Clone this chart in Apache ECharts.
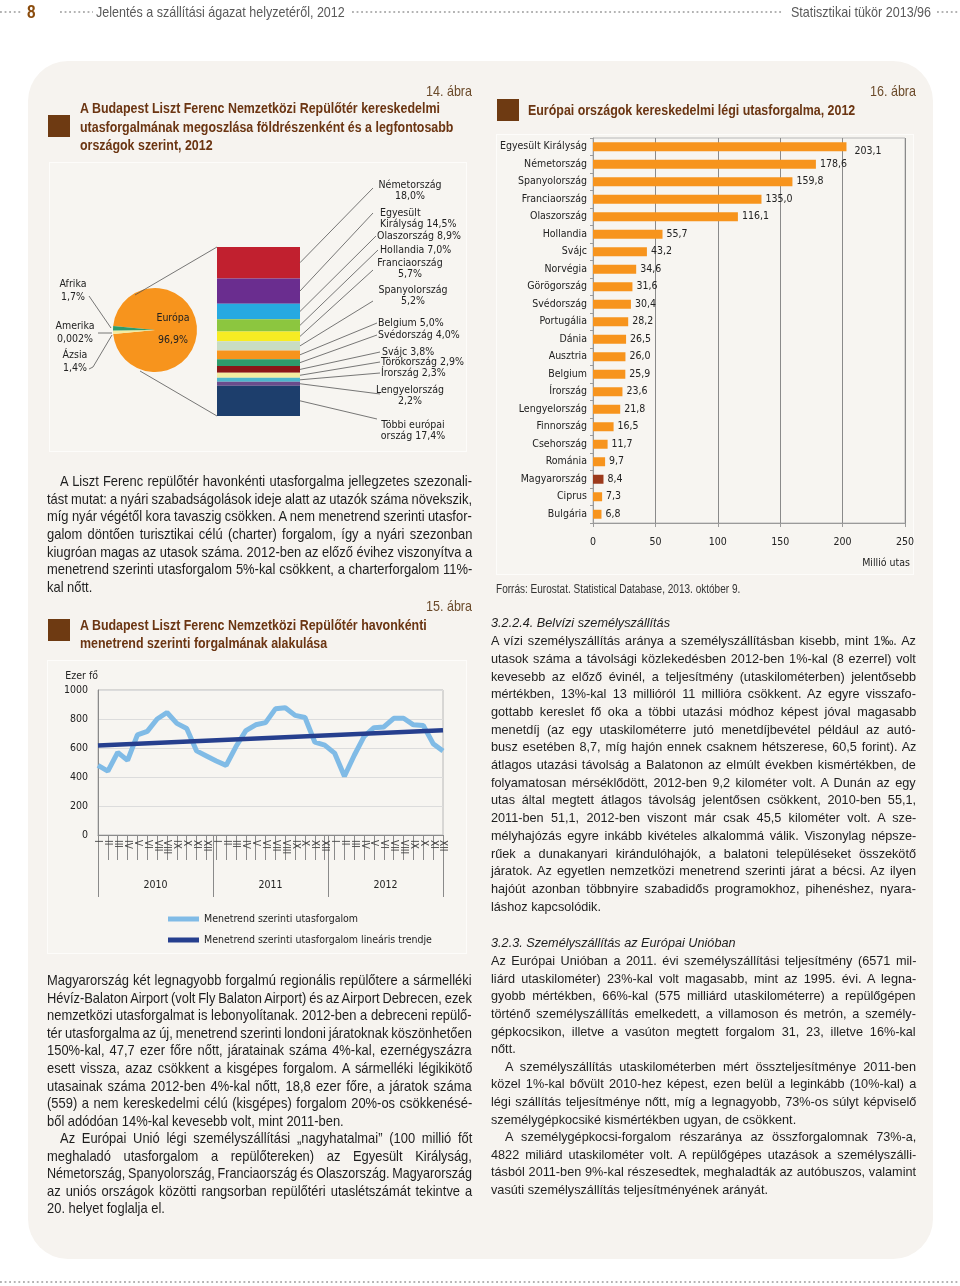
<!DOCTYPE html>
<html><head><meta charset="utf-8">
<script src="https://cdn.jsdelivr.net/npm/echarts@6/dist/echarts.min.js"></script>
<style>
html,body{margin:0;padding:0;background:#fff;width:960px;height:1286px;overflow:hidden;position:relative;}
#panel{position:absolute;left:28px;top:61px;width:905px;height:1198px;background:#f6f3ef;border-radius:40px;z-index:0;}
.box{position:absolute;border:1.5px solid #fdfcfa;box-sizing:border-box;background:#f7f5f1;z-index:1;}
#chart{position:absolute;left:0;top:0;width:960px;height:1286px;z-index:2;}
#txt{position:absolute;left:0;top:0;width:960px;height:1286px;z-index:3;pointer-events:none;}
.t{position:absolute;white-space:nowrap;transform-origin:0 50%;font-family:'Liberation Sans',Arial,sans-serif;}
.sq{position:absolute;width:22px;height:22px;background:#6e3a12;z-index:3;}
.dots{position:absolute;height:2px;background-image:linear-gradient(90deg,#b3b3b3 0,#b3b3b3 2px,transparent 2px);background-size:4.6px 2px;z-index:3;}
</style></head><body>
<div id="panel"></div>
<div class="box" style="left:49px;top:162px;width:418px;height:290px"></div>
<div class="box" style="left:47px;top:660px;width:420px;height:294px"></div>
<div class="box" style="left:496px;top:134px;width:418px;height:441px"></div>
<div class="sq" style="left:48px;top:115px"></div>
<div class="sq" style="left:497px;top:99px"></div>
<div class="sq" style="left:48px;top:619px"></div>
<div class="dots" style="left:0;top:11px;width:23px"></div>
<div class="dots" style="left:60px;top:11px;width:33px"></div>
<div class="dots" style="left:352px;top:11px;width:430px"></div>
<div class="dots" style="left:937px;top:11px;width:23px"></div>
<div class="dots" style="left:0;top:1281px;width:960px"></div>
<div id="chart"></div>
<div id="txt"></div>
<script>
// ================= DATA =================
// Figure 14
const continents = ['Európa', 'Ázsia', 'Amerika', 'Afrika'];
const continentShare = [96.9, 1.4, 0.002, 1.7];
const euCountries = ['Németország', 'Egyesült Királyság', 'Olaszország', 'Hollandia', 'Franciaország', 'Spanyolország', 'Belgium', 'Svédország', 'Svájc', 'Törökország', 'Írország', 'Lengyelország', 'Többi európai ország'];
const euShare = [18.0, 14.5, 8.9, 7.0, 5.7, 5.2, 5.0, 4.0, 3.8, 2.9, 2.3, 2.2, 17.4];

// Figure 15
const years15 = ['2010', '2011', '2012'];
const months15 = ['I', 'II', 'III', 'IV', 'V', 'VI', 'VII', 'VIII', 'IX', 'X', 'XI', 'XII'];
const pax2010 = [480, 440, 570, 515, 690, 715, 800, 845, 770, 735, 580, 545];
const pax2011 = [510, 480, 610, 720, 760, 775, 870, 878, 825, 810, 640, 620];
const pax2012 = [565, 405, 550, 680, 740, 745, 805, 805, 760, 755, 630, 580];
const trendEnds = [617, 722];
const yTicks15 = [0, 200, 400, 600, 800, 1000];
const seriesName15 = 'Menetrend szerinti utasforgalom';
const trendName15 = 'Menetrend szerinti utasforgalom lineáris trendje';

// Figure 16
const countries16 = ['Egyesült Királyság', 'Németország', 'Spanyolország', 'Franciaország', 'Olaszország', 'Hollandia', 'Svájc', 'Norvégia', 'Görögország', 'Svédország', 'Portugália', 'Dánia', 'Ausztria', 'Belgium', 'Írország', 'Lengyelország', 'Finnország', 'Csehország', 'Románia', 'Magyarország', 'Ciprus', 'Bulgária'];
const traffic16 = [203.1, 178.6, 159.8, 135.0, 116.1, 55.7, 43.2, 34.6, 31.6, 30.4, 28.2, 26.5, 26.0, 25.9, 23.6, 21.8, 16.5, 11.7, 9.7, 8.4, 7.3, 6.8];
const xTicks16 = [0, 50, 100, 150, 200, 250];
const highlight16 = 'Magyarország';

// Texts
const paraLeft1 = [
 '>A Liszt Ferenc repülőtér havonkénti utasforgalma jellegzetes szezonali-',
 'tást mutat: a nyári szabadságolások ideje alatt az utazók száma növekszik,',
 'míg nyár végétől kora tavaszig csökken. A nem menetrend szerinti utasfor-',
 'galom döntően turisztikai célú (charter) forgalom, így a nyári szezonban',
 'kiugróan magas az utasok száma. 2012-ben az előző évihez viszonyítva a',
 'menetrend szerinti utasforgalom 5%-kal csökkent, a charterforgalom 11%-',
 'kal nőtt.|'];
const paraLeft2 = [
 'Magyarország két legnagyobb forgalmú regionális repülőtere a sármelléki',
 'Hévíz-Balaton Airport (volt Fly Balaton Airport) és az Airport Debrecen, ezek',
 'nemzetközi utasforgalmat is lebonyolítanak. 2012-ben a debreceni repülő-',
 'tér utasforgalma az új, menetrend szerinti londoni járatoknak köszönhetően',
 '150%-kal, 47,7 ezer főre nőtt, járatainak száma 4%-kal, ezernégyszázra',
 'esett vissza, azaz csökkent a kisgépes forgalom. A sármelléki légikikötő',
 'utasainak száma 2012-ben 4%-kal nőtt, 18,8 ezer főre, a járatok száma',
 '(559) a nem kereskedelmi célú (kisgépes) forgalom 20%-os csökkenésé-',
 'ből adódóan 14%-kal kevesebb volt, mint 2011-ben.|',
 '>Az Európai Unió légi személyszállítási „nagyhatalmai” (100 millió főt',
 'meghaladó utasforgalom a repülőtereken) az Egyesült Királyság,',
 'Németország, Spanyolország, Franciaország és Olaszország. Magyarország',
 'az uniós országok közötti rangsorban repülőtéri utaslétszámát tekintve a',
 '20. helyet foglalja el.|'];
const paraRight1 = [
 'A vízi személyszállítás aránya a személyszállításban kisebb, mint 1‰. Az',
 'utasok száma a távolsági közlekedésben 2012-ben 1%-kal (8 ezerrel) volt',
 'kevesebb az előző évinél, a teljesítmény (utaskilométerben) jelentősebb',
 'mértékben, 13%-kal 13 millióról 11 millióra csökkent. Az egyre visszafo-',
 'gottabb kereslet fő oka a többi utazási módhoz képest jóval magasabb',
 'menetdíj (az egy utaskilométerre jutó menetdíjbevétel például az autó-',
 'busz esetében 8,7, míg hajón ennek csaknem hétszerese, 60,5 forint). Az',
 'átlagos utazási távolság a Balatonon az elmúlt években kismértékben, de',
 'folyamatosan mérséklődött, 2012-ben 9,2 kilométer volt. A Dunán az egy',
 'utas által megtett átlagos távolság jelentősen csökkent, 2010-ben 55,1,',
 '2011-ben 51,1, 2012-ben viszont már csak 45,5 kilométer volt. A sze-',
 'mélyhajózás egyre inkább kivételes alkalommá válik. Viszonylag népsze-',
 'rűek a dunakanyari kirándulóhajók, a balatoni településeket összekötő',
 'járatok. Az egyetlen nemzetközi menetrend szerinti járat a bécsi. Az ilyen',
 'hajóút azonban többnyire szabadidős programokhoz, pihenéshez, nyara-',
 'láshoz kapcsolódik.|'];
const paraRight2 = [
 'Az Európai Unióban a 2011. évi személyszállítási teljesítmény (6571 mil-',
 'liárd utaskilométer) 23%-kal volt magasabb, mint az 1995. évi. A legna-',
 'gyobb mértékben, 66%-kal (575 milliárd utaskilométerre) a repülőgépen',
 'történő személyszállítás emelkedett, a villamoson és metrón, a személy-',
 'gépkocsikon, illetve a vasúton megtett forgalom 31, 23, illetve 16%-kal',
 'nőtt.|',
 '>A személyszállítás utaskilométerben mért összteljesítménye 2011-ben',
 'közel 1%-kal bővült 2010-hez képest, ezen belül a leginkább (10%-kal) a',
 'légi szállítás teljesítménye nőtt, míg a legnagyobb, 73%-os súlyt képviselő',
 'személygépkocsiké kismértékben ugyan, de csökkent.|',
 '>A személygépkocsi-forgalom részaránya az összforgalomnak 73%-a,',
 '4822 miliárd utaskilométer volt. A repülőgépes utazások a személyszálli-',
 'tásból 2011-ben 9%-kal részesedtek, meghaladták az autóbuszos, valamint',
 'vasúti személyszállítás teljesítményének arányát.|'];

// ================= STYLE =================
const euColors = ['#c1202f', '#6a2d8f', '#27a9e1', '#8cc63f', '#f7ec23', '#c8dcc4', '#f7941d', '#2e9b6b', '#8b1616', '#f3eca0', '#4db6cc', '#6b4c8c', '#1d3e6c'];
const continentColors = ['#f7941d', '#f3eca0', '#1d3e6c', '#2e9b6b'];
const BROWN = '#6b3512';

function hasFont(f) {
  const c = document.createElement('canvas').getContext('2d');
  const s = 'abcdefghijklmnopqrstuvwxyz ÁÉŐ 0123456789';
  c.font = '20px monospace'; const w0 = c.measureText(s).width;
  c.font = "20px '" + f + "', monospace"; const w1 = c.measureText(s).width;
  return Math.abs(w1 - w0) > 0.5;
}
let F = "'Liberation Sans', Arial, sans-serif", FS = 11;
if (hasFont('Liberation Sans Narrow')) { F = "'Liberation Sans Narrow', 'Liberation Sans', sans-serif"; FS = 12; }
else if (hasFont('DejaVu Sans Condensed')) { F = "'DejaVu Sans Condensed', sans-serif"; FS = 10.5; }

// ================= HTML TEXT =================
const txt = document.getElementById('txt');
function mk(s, css) { const d = document.createElement('div'); d.className = 't'; d.textContent = s; Object.assign(d.style, css); txt.appendChild(d); return d; }
function kOf(s, css, target) { const d = mk(s, css); const w = d.offsetWidth; d.remove(); return target / w; }
function line(s, o) {
  const css = { fontSize: o.size + 'px', fontWeight: o.weight || 'normal', color: o.color || '#222', fontStyle: o.style || 'normal', lineHeight: (o.lh || Math.round(o.size * 1.25)) + 'px' };
  const d = mk(s, css);
  const nat = d.offsetWidth, h = d.offsetHeight;
  const k = o.w ? o.w / nat : (o.k || 1);
  d.style.transform = 'scaleX(' + k + ')';
  d.style.left = (o.xr !== undefined ? o.xr - nat * k : o.x) + 'px';
  d.style.top = (o.y - h / 2) + 'px';
  return d;
}
function para(lines, o) {
  lines.forEach((raw, i) => {
    let s = raw, ind = 0, last = false;
    if (s[0] === '>') { ind = o.ind; s = s.slice(1); }
    if (s.endsWith('|')) { last = true; s = s.slice(0, -1); }
    const d = mk(s, { fontSize: o.size + 'px', color: o.color || '#1e1e1e', lineHeight: o.lh + 'px', height: o.lh + 'px' });
    d.style.left = (o.x + ind) + 'px';
    d.style.top = (o.y + i * o.lh - o.lh / 2) + 'px';
    let k = o.k;
    if (!last) {
      const nat = d.offsetWidth, n = (s.match(/ /g) || []).length;
      const W = o.w - ind;
      if (n) {
        let ws = (W / k - nat) / n;
        const minWs = -0.8;
        if (ws < minWs) { ws = minWs; k = W / (nat + n * ws); }
        d.style.wordSpacing = ws + 'px';
      }
    }
    d.style.transform = 'scaleX(' + k + ')';
  });
}
// header
const kHead = kOf('Jelentés a szállítási ágazat helyzetéről, 2012', { fontSize: '14.5px' }, 249);
line('8', { x: 27, y: 12, size: 18, weight: 'bold', color: '#8a4b0c', k: 0.85 });
line('Jelentés a szállítási ágazat helyzetéről, 2012', { x: 96, y: 12, size: 14.5, color: '#5a5a5a', k: kHead });
line('Statisztikai tükör 2013/96', { xr: 931, y: 12, size: 14.5, color: '#5a5a5a', k: kHead });
// titles
const titleCss = { fontSize: '15.5px', fontWeight: 'bold' };
const kTitle = kOf('A Budapest Liszt Ferenc Nemzetközi Repülőtér havonkénti', titleCss, 347);
const tOpt = (x, y) => ({ x: x, y: y, size: 15.5, weight: 'bold', color: BROWN, k: kTitle });
line('A Budapest Liszt Ferenc Nemzetközi Repülőtér kereskedelmi', tOpt(80, 107.5));
line('utasforgalmának megoszlása földrészenként és a legfontosabb', tOpt(80, 126));
line('országok szerint, 2012', tOpt(80, 144.5));
line('Európai országok kereskedelmi légi utasforgalma, 2012', tOpt(528, 109));
line('A Budapest Liszt Ferenc Nemzetközi Repülőtér havonkénti', tOpt(80, 624));
line('menetrend szerinti forgalmának alakulása', tOpt(80, 642));
const kAbra = kHead;
line('14. ábra', { xr: 472, y: 91, size: 14.5, color: '#6b4a2a', k: kAbra });
line('16. ábra', { xr: 916, y: 91, size: 14.5, color: '#6b4a2a', k: kAbra });
line('15. ábra', { xr: 472, y: 606, size: 14.5, color: '#6b4a2a', k: kAbra });
line('Forrás: Eurostat. Statistical Database, 2013. október 9.', { x: 496, y: 589, size: 12.5, color: '#333', w: 244 });
// paragraphs
const kL = kOf('ből adódóan 14%-kal kevesebb volt, mint 2011-ben.', { fontSize: '14.5px' }, 297);
para(paraLeft1, { x: 47, w: 425, y: 482, lh: 17.6, size: 14.5, k: kL, ind: 13 });
para(paraLeft2, { x: 47, w: 425, y: 981, lh: 17.55, size: 14.5, k: kL, ind: 13 });
const kR = kOf('vasúti személyszállítás teljesítményének arányát.', { fontSize: '13px' }, 277);
line('3.2.2.4. Belvízi személyszállítás', { x: 491, y: 623, size: 13, style: 'italic', color: '#1e1e1e', k: kR });
para(paraRight1, { x: 491, w: 425, y: 641, lh: 17.7, size: 13, k: kR, ind: 14 });
line('3.2.3. Személyszállítás az Európai Unióban', { x: 491, y: 943, size: 13, style: 'italic', color: '#1e1e1e', k: kR });
para(paraRight2, { x: 491, w: 425, y: 961, lh: 17.6, size: 13, k: kR, ind: 14 });

// ================= ECHARTS =================
const chart = echarts.init(document.getElementById('chart'), null, { renderer: 'canvas' });
const TXT = { fontFamily: F, fontSize: FS, color: '#222' };
const FONT = FS + 'px ' + F;
const fmt = v => v.toFixed(1).replace('.', ',');
const euTotal = euShare.reduce((a, b) => a + b, 0);
const contTotal = continentShare.reduce((a, b) => a + b, 0);
const months36 = [];
years15.forEach(y => months15.forEach(m => months36.push(m)));
const pax = pax2010.concat(pax2011, pax2012);
const trend = pax.map((v, i) => i === 0 ? trendEnds[0] : (i === pax.length - 1 ? trendEnds[1] : null));

const series = [];
series.push({
  type: 'pie', center: [155, 330], radius: 42, silent: true,
  startAngle: 180 - (1 - continentShare[0] / contTotal) * 180,
  label: { show: false }, labelLine: { show: false },
  data: continents.map((c, i) => ({ name: c, value: continentShare[i], itemStyle: { color: continentColors[i] } }))
});
euCountries.forEach((c, i) => series.push({
  type: 'bar', name: c, stack: 'eu', xAxisIndex: 0, yAxisIndex: 0, barWidth: '100%', silent: true,
  itemStyle: { color: euColors[i] }, data: [euShare[i]]
}));
series.push({
  type: 'bar', name: 'utasforgalom', xAxisIndex: 1, yAxisIndex: 1, barWidth: 9, silent: true,
  data: traffic16.map((v, i) => ({
    value: v,
    itemStyle: { color: countries16[i] === highlight16 ? '#9c3a1c' : '#f7941d' },
    label: i === 0 ? { offset: [4, 5] } : undefined
  })),
  label: { show: true, position: 'right', distance: 4, formatter: p => fmt(p.value), ...TXT }
});
series.push({
  type: 'line', name: seriesName15, xAxisIndex: 2, yAxisIndex: 2, data: pax, showSymbol: false, symbol: 'none',
  lineStyle: { color: '#80bbe6', width: 5 }, itemStyle: { color: '#80bbe6' }, silent: true
});
series.push({
  type: 'line', name: trendName15, xAxisIndex: 2, yAxisIndex: 2, data: trend, connectNulls: true, showSymbol: false, symbol: 'none',
  lineStyle: { color: '#263f8e', width: 4.5 }, itemStyle: { color: '#263f8e' }, silent: true, z: 3
});

chart.setOption({
  animation: false,
  textStyle: { fontFamily: F },
  legend: {
    data: [seriesName15, trendName15], orient: 'vertical', left: 168, top: 912, itemWidth: 31, itemHeight: 5, itemGap: 7,
    icon: 'rect', padding: 0, selectedMode: false, textStyle: { ...TXT, lineHeight: 14 }
  },
  grid: [
    { left: 217, top: 247, width: 83, height: 169 },
    { left: 593, top: 138, width: 312, height: 385, show: true, borderColor: '#b8b8b8', borderWidth: 1, backgroundColor: 'transparent' },
    { left: 98, top: 690, width: 345, height: 145, show: true, borderColor: '#b8b8b8', borderWidth: 1, backgroundColor: 'transparent' }
  ],
  xAxis: [
    { gridIndex: 0, type: 'category', data: ['Európa'], show: false },
    { gridIndex: 1, type: 'value', min: xTicks16[0], max: xTicks16[xTicks16.length - 1], interval: xTicks16[1] - xTicks16[0],
      axisLine: { show: true, lineStyle: { color: '#9a9a9a' } }, axisTick: { show: true, length: 4, lineStyle: { color: '#9a9a9a' } },
      splitLine: { show: true, lineStyle: { color: '#8a8a8a' } }, axisLabel: { ...TXT, margin: 14, formatter: v => String(v) } },
    { gridIndex: 2, type: 'category', data: months36, boundaryGap: false, position: 'bottom',
      axisLine: { show: true, lineStyle: { color: '#8a8a8a' } }, axisTick: { show: true, length: 25, interval: 0, lineStyle: { color: '#8a8a8a' } },
      axisLabel: { interval: 0, rotate: -90, fontFamily: F, fontSize: 10, color: '#444', margin: 5 } },
    { gridIndex: 2, type: 'category', data: years15, boundaryGap: true, position: 'bottom', offset: 0,
      axisLine: { show: false }, axisTick: { show: true, length: 62, lineStyle: { color: '#8a8a8a' } },
      axisLabel: { ...TXT, margin: 45 } }
  ],
  yAxis: [
    { gridIndex: 0, type: 'value', min: 0, max: euTotal, inverse: true, show: false },
    { gridIndex: 1, type: 'category', data: countries16, inverse: true,
      axisLine: { show: true, lineStyle: { color: '#9a9a9a' } }, axisTick: { show: true, length: 3, lineStyle: { color: '#9a9a9a' } },
      axisLabel: { ...TXT, margin: 6 } },
    { gridIndex: 2, type: 'value', min: yTicks15[0], max: yTicks15[yTicks15.length - 1], interval: yTicks15[1] - yTicks15[0],
      name: 'Ezer fő', nameLocation: 'end', nameGap: 8, nameTextStyle: { ...TXT, align: 'right' },
      axisLine: { show: true, lineStyle: { color: '#8a8a8a' } }, axisTick: { show: false },
      splitLine: { show: true, lineStyle: { color: '#dcdcdc' } }, axisLabel: { ...TXT, margin: 10, formatter: v => String(v) } }
  ],
  series: series
});

// ---- annotations for figure 14 (label layout only) ----
const lay14 = [
  { brk: 1, align: 'center', x: 410, y: 185, ex: 373, ey: 188 },
  { brk: 1, align: 'left', x: 380, y: 213, ex: 373, ey: 213 },
  { brk: 0, align: 'left', x: 377, y: 236, ex: 376, ey: 236 },
  { brk: 0, align: 'left', x: 380, y: 250, ex: 378, ey: 250 },
  { brk: 1, align: 'center', x: 410, y: 263, ex: 373, ey: 270 },
  { brk: 1, align: 'center', x: 413, y: 290, ex: 373, ey: 301 },
  { brk: 0, align: 'left', x: 378, y: 323, ex: 377, ey: 323 },
  { brk: 0, align: 'left', x: 378, y: 335, ex: 377, ey: 335 },
  { brk: 0, align: 'left', x: 382, y: 352.5, ex: 380, ey: 352 },
  { brk: 0, align: 'left', x: 381, y: 362.5, ex: 380, ey: 362 },
  { brk: 0, align: 'left', x: 381, y: 373.5, ex: 380, ey: 373 },
  { brk: 1, align: 'center', x: 410, y: 390, ex: 380, ey: 394 },
  { brk: 2, align: 'center', x: 413, y: 425, ex: 377, ey: 419 }
];
const LH = 11.5;
const rect0 = chart.getModel().getComponent('grid', 0).coordinateSystem.getRect();
const g = [];
const textEl = (x, y, s, align, lh) => ({ type: 'text', silent: true, z: 100, x: x, y: y, style: { text: s, font: FONT, fill: '#222', align: align, textAlign: align, verticalAlign: 'top', textVerticalAlign: 'top', lineHeight: lh } });
let cum = 0;
euCountries.forEach((c, i) => {
  const mid = chart.convertToPixel({ xAxisIndex: 0, yAxisIndex: 0 }, [0, cum + euShare[i] / 2])[1];
  cum += euShare[i];
  const L = lay14[i];
  let s = c + ' ' + fmt(euShare[i]) + '%';
  if (L.brk) { let n = 0; s = s.replace(/ /g, m => (++n === L.brk ? '\n' : ' ')); }
  g.push({ type: 'line', silent: true, z: 100, shape: { x1: rect0.x + rect0.width, y1: mid, x2: L.ex, y2: L.ey }, style: { stroke: '#555', lineWidth: 0.8 } });
  g.push(textEl(L.x, L.y - LH / 2, s, L.align, LH));
});
// pie-to-bar connectors
g.push({ type: 'polyline', silent: true, z: 100, shape: { points: [[135, 295], [rect0.x, rect0.y]] }, style: { stroke: '#555', lineWidth: 0.8, fill: null } });
g.push({ type: 'polyline', silent: true, z: 100, shape: { points: [[140, 371], [rect0.x, rect0.y + rect0.height]] }, style: { stroke: '#555', lineWidth: 0.8, fill: null } });
// pie labels
const pieLab = {
  'Afrika': { x: 73, y: 284, pts: [[89, 296], [111, 328]] },
  'Amerika': { x: 75, y: 326, pts: [[98, 333], [112, 333]] },
  'Ázsia': { x: 75, y: 355, pts: [[89, 369], [93, 367], [112, 335]] }
};
continents.forEach((c, i) => {
  if (i === 0) {
    g.push(textEl(173, 319 - 6, c + '\n\n' + fmt(continentShare[i]) + '%', 'center', 11));
    return;
  }
  const L = pieLab[c];
  const val = continentShare[i] < 0.1 ? continentShare[i].toFixed(3).replace('.', ',') : fmt(continentShare[i]);
  g.push(textEl(L.x, L.y - 6.5, c + '\n' + val + '%', 'center', 13));
  g.push({ type: 'polyline', silent: true, z: 100, shape: { points: L.pts }, style: { stroke: '#555', lineWidth: 0.8, fill: null } });
});
g.push(textEl(910, 557, 'Millió utas', 'right', 13));
chart.setOption({ graphic: g });
</script>
</body></html>
